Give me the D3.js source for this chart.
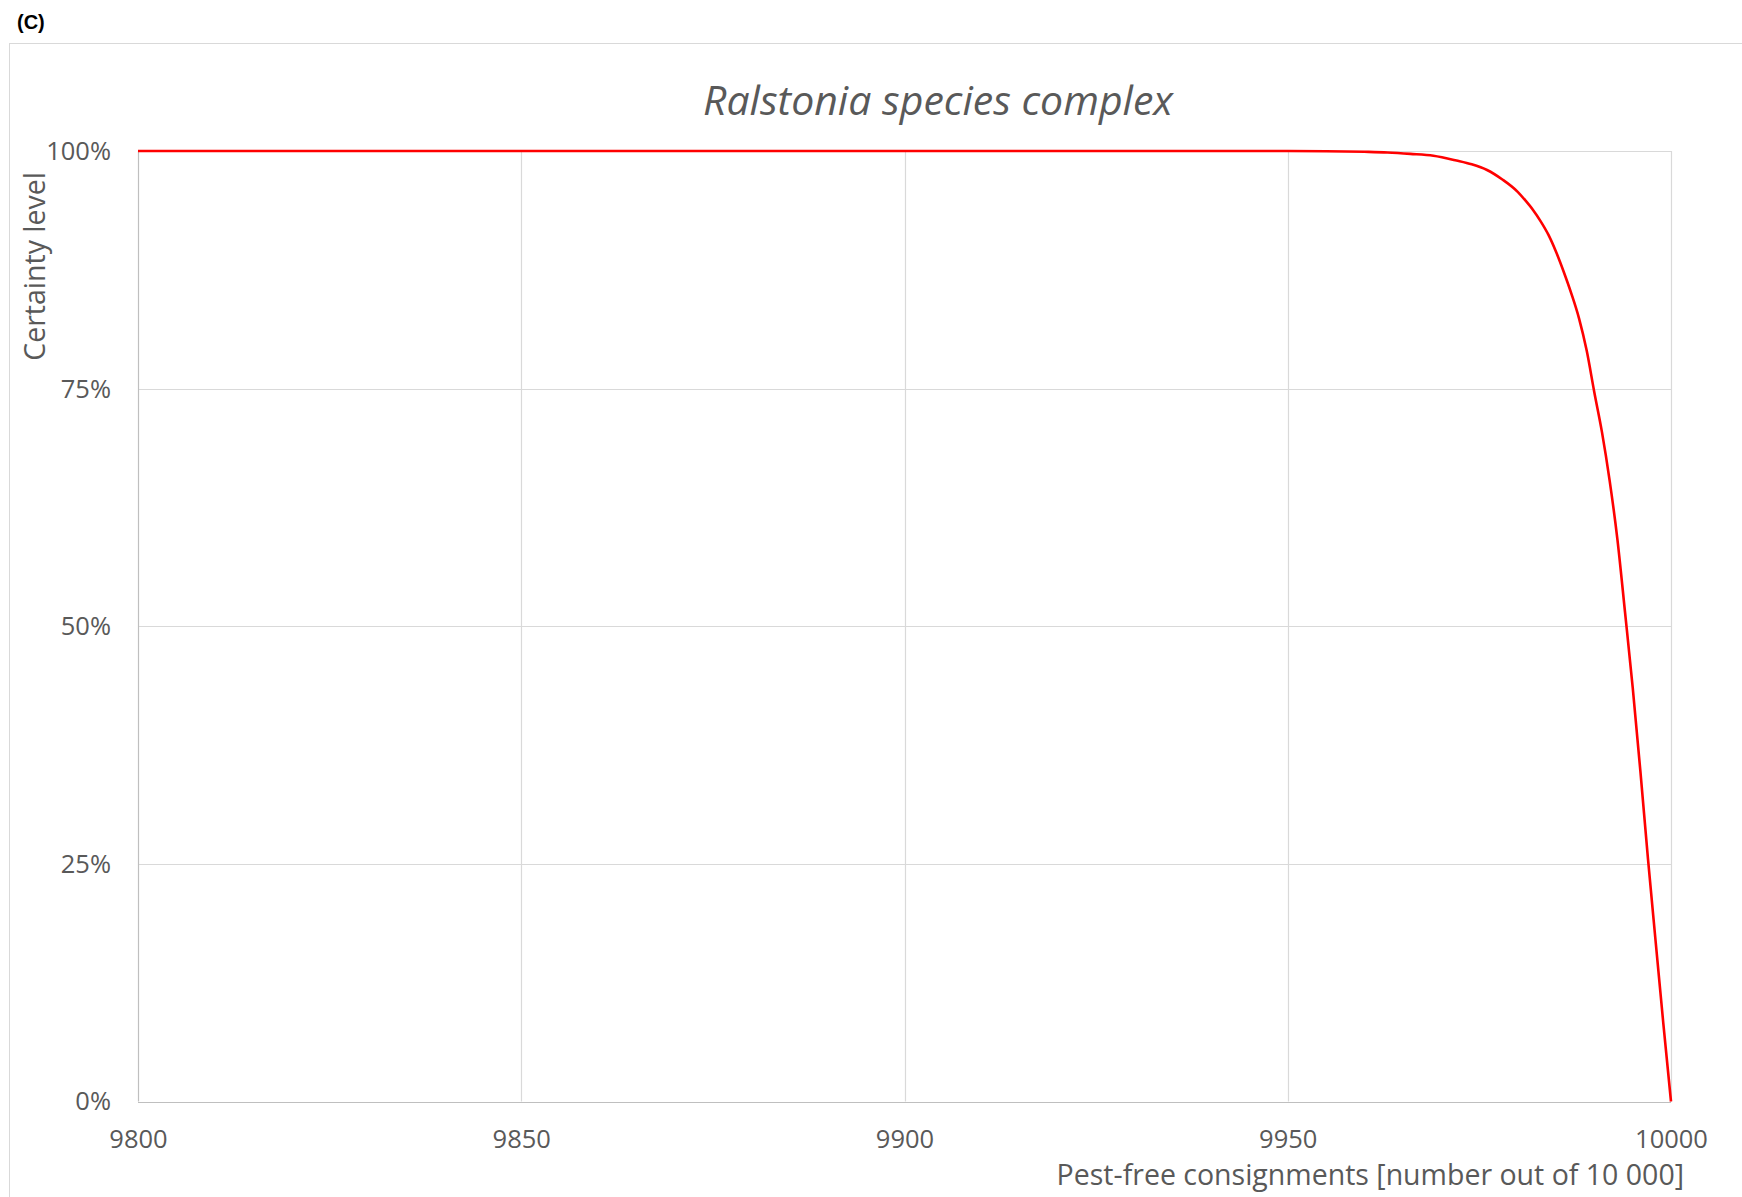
<!DOCTYPE html>
<html><head><meta charset="utf-8">
<script src="https://cdn.jsdelivr.net/npm/d3@7"></script>
<style>body{margin:0;background:#fff}</style>
</head><body>
<script>
const consignments = [9800, 9940, 9950, 9955, 9960, 9963, 9966, 9969, 9972, 9974, 9976, 9978, 9980, 9981, 9982, 9983, 9984, 9985, 9986, 9987, 9988, 9989, 9990, 9991, 9992, 9993, 9994, 9995, 9996, 9997, 9998, 9999, 10000];
const certainty = [100, 100, 100, 99.98, 99.92, 99.85, 99.7, 99.5, 99.0, 98.6, 98.0, 97.0, 95.7, 94.8, 93.8, 92.6, 91.2, 89.4, 87.3, 85.0, 82.4, 79.0, 74.6, 70.4, 65.3, 59.2, 51.5, 43.6, 34.8, 25.5, 16.8, 8.2, 0];
const xTicks = [9800, 9850, 9900, 9950, 10000];
const yTicks = [0, 25, 50, 75, 100];
const title = "Ralstonia species complex";
const xTitle = "Pest-free consignments [number out of 10 000]";
const yTitle = "Certainty level";
const panel = "(C)";

const W = 1742, H = 1197;
const svg = d3.select("body").append("svg").attr("width", W).attr("height", H);
const font = "'Open Sans', sans-serif";
const grey = "#595959";

// chart frame
svg.append("rect").attr("x", 9.5).attr("y", 43.5).attr("width", 1800).attr("height", 1300)
  .attr("fill", "none").attr("stroke", "#d9d9d9").attr("stroke-width", 1);

svg.append("text").attr("x", 17).attr("y", 29).text(panel)
  .attr("font-family", "'Liberation Sans', Arial, sans-serif").attr("font-weight", "bold")
  .attr("font-size", 20).attr("fill", "#000");

const L = 138, R = 1671, T = 151, B = 1101.5;
const x = d3.scaleLinear().domain([9800, 10000]).range([L, R]);
const y = d3.scaleLinear().domain([0, 100]).range([B, T]);

// gridlines
const g = svg.append("g");
g.selectAll(".vg").data(xTicks.filter(d => d !== 9800)).enter().append("line")
  .attr("x1", d => Math.round(x(d)) + 0.5).attr("x2", d => Math.round(x(d)) + 0.5)
  .attr("y1", T).attr("y2", B).attr("stroke", "#d9d9d9").attr("stroke-width", 1.2);
g.selectAll(".hg").data(yTicks.filter(d => d !== 0)).enter().append("line")
  .attr("x1", L).attr("x2", R)
  .attr("y1", d => Math.round(y(d)) + 0.5).attr("y2", d => Math.round(y(d)) + 0.5)
  .attr("stroke", "#d9d9d9").attr("stroke-width", 1.2);
// axes lines
g.append("line").attr("x1", L + 0.5).attr("x2", L + 0.5).attr("y1", T).attr("y2", B)
  .attr("stroke", "#bfbfbf").attr("stroke-width", 1.2);
g.append("line").attr("x1", L).attr("x2", R).attr("y1", Math.round(B) + 0.5).attr("y2", Math.round(B) + 0.5)
  .attr("stroke", "#bfbfbf").attr("stroke-width", 1.2);

// axes via d3 (labels only)
const xAxis = svg.append("g").attr("transform", `translate(0,${B})`)
  .call(d3.axisBottom(x).tickValues(xTicks).tickSize(0).tickPadding(0).tickFormat(d3.format("d")));
xAxis.select(".domain").remove();
xAxis.selectAll("text").attr("font-family", font).attr("font-size", 25.5).attr("fill", grey)
  .attr("dy", null).attr("y", 46);

const yAxis = svg.append("g").attr("transform", `translate(${L},0)`)
  .call(d3.axisLeft(y).tickValues(yTicks).tickSize(0).tickPadding(0).tickFormat(d => d + "%"));
yAxis.select(".domain").remove();
yAxis.selectAll("text").attr("font-family", font).attr("font-size", 25.5).attr("fill", grey)
  .attr("x", -27).attr("dy", "0.33em");

// line
const data = consignments.map((c, i) => [c, certainty[i]]);
svg.append("path").datum(data)
  .attr("d", d3.line().x(d => x(d[0])).y(d => y(d[1])).curve(d3.curveMonotoneX))
  .attr("fill", "none").attr("stroke", "#ff0000").attr("stroke-width", 2.6);

// titles
svg.append("text").attr("x", 938).attr("y", 115).attr("text-anchor", "middle")
  .attr("font-family", font).attr("font-style", "italic").attr("font-size", 41)
  .attr("fill", grey).text(title);
svg.append("text").attr("x", 1684).attr("y", 1185).attr("text-anchor", "end")
  .attr("font-family", font).attr("font-size", 28.5).attr("fill", grey).text(xTitle);
svg.append("text").attr("transform", "translate(45,172) rotate(-90)").attr("text-anchor", "end")
  .attr("font-family", font).attr("font-size", 28.5).attr("fill", grey).text(yTitle);
</script>
</body></html>
